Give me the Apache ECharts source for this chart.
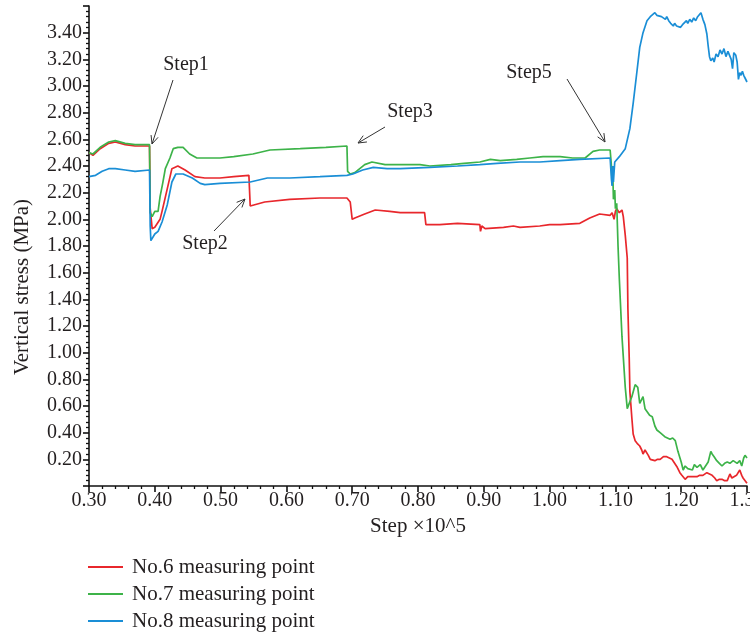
<!DOCTYPE html>
<html>
<head>
<meta charset="utf-8">
<script src="https://cdn.jsdelivr.net/npm/echarts/dist/echarts.min.js"></script>
<style>
  html, body { margin: 0; padding: 0; background: #fff; }
  #main { width: 750px; height: 637px; }
</style>
</head>
<body>
<div id="main"></div>
<script>
  // [step x10^5, vertical stress MPa]
  const point6 = [[0.300,2.50],[0.306,2.48],[0.317,2.53],[0.330,2.57],[0.340,2.58],[0.355,2.56],[0.370,2.55],[0.392,2.55],[0.393,2.08],[0.396,1.93],[0.400,1.94],[0.403,1.95],[0.408,2.00],[0.411,2.06],[0.419,2.23],[0.426,2.38],[0.435,2.40],[0.446,2.37],[0.461,2.32],[0.476,2.31],[0.499,2.31],[0.520,2.32],[0.543,2.33],[0.545,2.10],[0.548,2.11],[0.567,2.13],[0.605,2.15],[0.651,2.16],[0.692,2.16],[0.697,2.13],[0.700,2.00],[0.704,2.01],[0.719,2.04],[0.735,2.07],[0.757,2.06],[0.773,2.05],[0.810,2.05],[0.812,1.96],[0.833,1.96],[0.860,1.97],[0.894,1.96],[0.895,1.91],[0.897,1.95],[0.902,1.93],[0.930,1.94],[0.945,1.95],[0.955,1.94],[0.985,1.95],[1.000,1.96],[1.016,1.96],[1.046,1.97],[1.061,2.01],[1.076,2.04],[1.092,2.03],[1.095,2.05],[1.098,2.00],[1.100,2.06],[1.102,2.08],[1.106,2.05],[1.110,2.07],[1.112,2.02],[1.115,1.88],[1.118,1.71],[1.119,1.33],[1.121,0.96],[1.122,0.71],[1.125,0.51],[1.127,0.39],[1.130,0.34],[1.133,0.32],[1.137,0.30],[1.140,0.27],[1.142,0.24],[1.145,0.27],[1.148,0.28],[1.150,0.23],[1.153,0.20],[1.156,0.21],[1.160,0.19],[1.164,0.20],[1.168,0.20],[1.173,0.22],[1.178,0.22],[1.182,0.21],[1.186,0.20],[1.190,0.17],[1.194,0.14],[1.198,0.10],[1.201,0.08],[1.206,0.05],[1.210,0.07],[1.213,0.08],[1.218,0.07],[1.224,0.07],[1.228,0.08],[1.233,0.08],[1.239,0.10],[1.243,0.09],[1.247,0.08],[1.251,0.06],[1.254,0.04],[1.258,0.05],[1.262,0.05],[1.266,0.04],[1.270,0.04],[1.274,0.09],[1.277,0.06],[1.279,0.05],[1.284,0.08],[1.289,0.12],[1.292,0.08],[1.294,0.06],[1.297,0.05],[1.300,0.02]];

  const point7 = [[0.300,2.50],[0.306,2.49],[0.317,2.54],[0.330,2.58],[0.340,2.59],[0.355,2.57],[0.370,2.56],[0.392,2.56],[0.393,2.05],[0.396,2.02],[0.400,2.06],[0.405,2.06],[0.408,2.17],[0.412,2.27],[0.416,2.38],[0.423,2.46],[0.428,2.53],[0.435,2.54],[0.443,2.54],[0.453,2.49],[0.464,2.46],[0.476,2.46],[0.499,2.46],[0.520,2.47],[0.549,2.49],[0.575,2.52],[0.621,2.53],[0.660,2.54],[0.692,2.55],[0.693,2.36],[0.697,2.34],[0.704,2.35],[0.719,2.41],[0.730,2.43],[0.750,2.41],[0.773,2.41],[0.803,2.41],[0.818,2.40],[0.850,2.41],[0.870,2.42],[0.894,2.43],[0.910,2.45],[0.925,2.44],[0.950,2.45],[0.970,2.46],[0.990,2.47],[1.016,2.47],[1.035,2.46],[1.054,2.46],[1.066,2.51],[1.076,2.52],[1.092,2.52],[1.094,2.40],[1.095,2.26],[1.096,2.35],[1.097,2.15],[1.099,2.22],[1.100,2.08],[1.102,2.12],[1.104,1.80],[1.106,1.55],[1.110,1.12],[1.115,0.74],[1.118,0.58],[1.121,0.62],[1.125,0.67],[1.130,0.76],[1.134,0.74],[1.137,0.62],[1.142,0.67],[1.145,0.58],[1.148,0.57],[1.152,0.53],[1.156,0.52],[1.160,0.45],[1.163,0.42],[1.168,0.40],[1.175,0.37],[1.183,0.35],[1.187,0.36],[1.191,0.34],[1.195,0.26],[1.200,0.18],[1.203,0.12],[1.206,0.15],[1.210,0.13],[1.213,0.14],[1.217,0.12],[1.220,0.16],[1.224,0.14],[1.229,0.16],[1.233,0.12],[1.236,0.11],[1.241,0.18],[1.245,0.26],[1.247,0.24],[1.250,0.22],[1.254,0.19],[1.258,0.17],[1.262,0.15],[1.266,0.17],[1.270,0.18],[1.274,0.17],[1.279,0.19],[1.285,0.17],[1.289,0.19],[1.292,0.15],[1.295,0.21],[1.297,0.23],[1.300,0.21]];

  const point8 = [[0.300,2.32],[0.310,2.33],[0.320,2.36],[0.330,2.38],[0.340,2.38],[0.355,2.37],[0.370,2.36],[0.392,2.37],[0.393,1.95],[0.394,1.84],[0.396,1.83],[0.400,1.89],[0.405,1.91],[0.411,1.98],[0.419,2.11],[0.426,2.28],[0.432,2.34],[0.443,2.34],[0.457,2.31],[0.469,2.27],[0.476,2.26],[0.499,2.27],[0.545,2.28],[0.571,2.31],[0.605,2.31],[0.651,2.32],[0.692,2.33],[0.701,2.34],[0.716,2.37],[0.732,2.39],[0.753,2.38],[0.773,2.38],[0.818,2.39],[0.860,2.40],[0.894,2.41],[0.920,2.42],[0.955,2.43],[0.985,2.43],[1.016,2.44],[1.046,2.45],[1.092,2.46],[1.094,2.30],[1.095,2.25],[1.096,2.40],[1.097,2.28],[1.099,2.43],[1.102,2.44],[1.106,2.47],[1.115,2.53],[1.122,2.68],[1.127,2.87],[1.133,3.12],[1.137,3.29],[1.142,3.40],[1.148,3.49],[1.150,3.50],[1.153,3.52],[1.156,3.53],[1.160,3.55],[1.163,3.53],[1.166,3.54],[1.170,3.52],[1.173,3.53],[1.176,3.50],[1.178,3.52],[1.181,3.49],[1.184,3.47],[1.188,3.45],[1.190,3.47],[1.193,3.45],[1.196,3.46],[1.199,3.44],[1.202,3.46],[1.205,3.45],[1.208,3.49],[1.210,3.47],[1.213,3.50],[1.216,3.48],[1.219,3.51],[1.222,3.49],[1.225,3.52],[1.228,3.53],[1.230,3.55],[1.233,3.50],[1.236,3.46],[1.239,3.39],[1.241,3.30],[1.243,3.22],[1.245,3.19],[1.248,3.21],[1.250,3.18],[1.253,3.24],[1.256,3.22],[1.259,3.27],[1.262,3.24],[1.265,3.28],[1.268,3.22],[1.271,3.26],[1.274,3.27],[1.276,3.20],[1.278,3.13],[1.280,3.25],[1.283,3.23],[1.285,3.18],[1.287,3.05],[1.289,3.10],[1.291,3.08],[1.293,3.11],[1.295,3.08],[1.297,3.06],[1.300,3.03]];

  const seriesNames = ['No.6 measuring point', 'No.7 measuring point', 'No.8 measuring point'];
  const stepLabels = ['Step1', 'Step2', 'Step3', 'Step5'];

  const font = '"Liberation Serif", "DejaVu Serif", serif';
  const ink = '#231f20';

  function arrow(x1, y1, x2, y2) {
    const a = Math.atan2(y1 - y2, x1 - x2), h = 9, s = 0.42;
    return [{
      type: 'line', silent: true,
      shape: { x1: x1, y1: y1, x2: x2, y2: y2 },
      style: { stroke: '#333', lineWidth: 1 }
    }, {
      type: 'polyline', silent: true,
      shape: { points: [[x2 + h * Math.cos(a + s), y2 + h * Math.sin(a + s)], [x2, y2], [x2 + h * Math.cos(a - s), y2 + h * Math.sin(a - s)]] },
      style: { stroke: '#333', lineWidth: 1, fill: null }
    }];
  }
  function label(text, x, y) {
    return {
      type: 'text', silent: true, x: x, y: y,
      style: { text: text, font: '20px ' + font, fill: ink, align: 'center', verticalAlign: 'middle' }
    };
  }

  const chart = echarts.init(document.getElementById('main'));
  chart.setOption({
    animation: false,
    grid: { left: 89, right: 3, top: 6, bottom: 151, outerBoundsMode: 'none' },
    legend: {
      orient: 'vertical', left: 88, top: 556, padding: 0,
      icon: 'rect', itemWidth: 35, itemHeight: 2, itemGap: 5,
      data: seriesNames,
      textStyle: { fontFamily: font, fontSize: 21, color: ink, lineHeight: 22, padding: [0, 0, 0, 4] }
    },
    xAxis: {
      type: 'value', min: 0.3, max: 1.3, interval: 0.1,
      name: 'Step ×10^5', nameLocation: 'middle', nameGap: 25,
      nameTextStyle: { fontFamily: font, fontSize: 21, color: ink },
      axisLine: { lineStyle: { color: '#111', width: 1.6 } },
      axisTick: { length: 6, lineStyle: { color: '#111', width: 1.6 } },
      minorTick: { show: true, splitNumber: 5, length: 3, lineStyle: { color: '#111', width: 1.3 } },
      splitLine: { show: false },
      axisLabel: { fontFamily: font, fontSize: 20, color: ink, margin: 5, formatter: v => v.toFixed(2) }
    },
    yAxis: {
      type: 'value', min: 0, max: 3.6, interval: 0.2,
      axisLine: { show: true, lineStyle: { color: '#111', width: 1.6 } },
      axisTick: { show: true, length: 6, lineStyle: { color: '#111', width: 1.6 } },
      minorTick: { show: true, splitNumber: 5, length: 3, lineStyle: { color: '#111', width: 1.3 } },
      splitLine: { show: false },
      axisLabel: { fontFamily: font, fontSize: 20, color: ink, margin: 7, showMinLabel: false, showMaxLabel: false, formatter: v => v.toFixed(2) }
    },
    graphic: [
      {
        type: 'text', silent: true, x: 22, y: 287, rotation: Math.PI / 2,
        style: { text: 'Vertical stress (MPa)', font: '21px ' + font, fill: ink, align: 'center', verticalAlign: 'middle' }
      },
      label(stepLabels[0], 186, 65),
      label(stepLabels[1], 205, 244),
      label(stepLabels[2], 410, 112),
      label(stepLabels[3], 529, 73)
    ].concat(arrow(173, 80, 152, 144), arrow(214, 231, 245, 199), arrow(385, 127, 358, 143), arrow(567, 79, 605, 142)),
    series: [
      { name: seriesNames[0], type: 'line', data: point6, symbol: 'none', color: '#e8272c', lineStyle: { width: 1.7 } },
      { name: seriesNames[1], type: 'line', data: point7, symbol: 'none', color: '#3db349', lineStyle: { width: 1.7 } },
      { name: seriesNames[2], type: 'line', data: point8, symbol: 'none', color: '#1a8ed6', lineStyle: { width: 1.7 } }
    ]
  });
</script>
</body>
</html>
